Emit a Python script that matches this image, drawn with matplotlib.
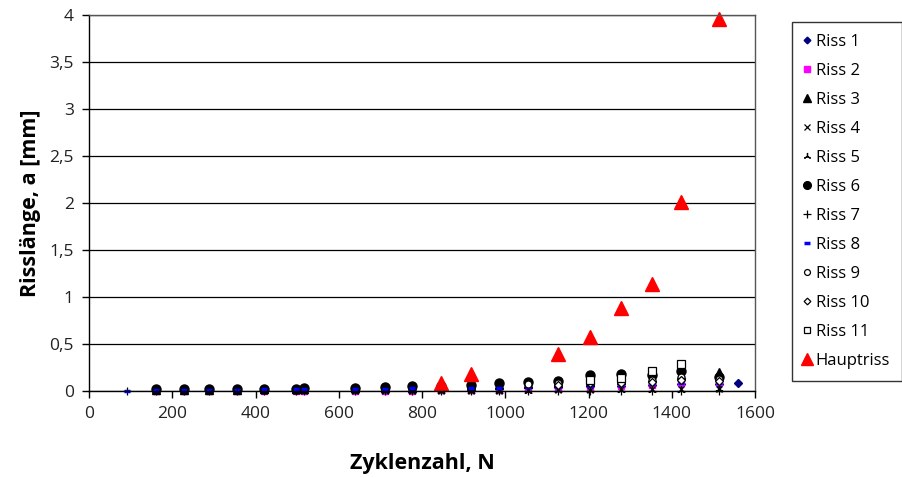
import matplotlib
matplotlib.use("Agg")
import matplotlib.pyplot as plt
import numpy as np

plt.rcParams['font.family'] = ['Open Sans', 'DejaVu Sans']

N = [91, 161, 228, 288, 355, 420, 497, 517, 639, 711, 776, 846, 918, 985,
     1055, 1127, 1204, 1278, 1353, 1422, 1513, 1559]
nan = float('nan')

riss1 = [nan, 0.01, 0.01, 0.01, 0.012, 0.015, 0.015, 0.015, 0.02, 0.02, 0.022, 0.025,
         0.03, 0.035, 0.04, 0.045, 0.05, 0.055, 0.06, 0.07, 0.075, 0.08]
riss2 = [nan, 0.0, 0.0, 0.0, 0.0, 0.005, 0.005, 0.005, 0.005, 0.005, 0.005, 0.01,
         0.01, 0.015, 0.02, 0.03, 0.04, 0.05, 0.06, 0.085, 0.1, nan]
riss3 = [nan, 0.01, 0.015, 0.015, 0.015, 0.02, 0.02, 0.02, 0.03, 0.03, 0.03, 0.04,
         0.05, 0.06, 0.07, 0.08, 0.1, 0.12, 0.14, 0.17, 0.2, nan]
riss4 = [nan, 0.0, 0.0, 0.0, 0.0, 0.0, 0.0, 0.0, 0.0, 0.0, 0.005, 0.005,
         0.005, 0.005, 0.01, 0.01, 0.015, 0.02, 0.02, 0.02, 0.025, nan]
riss5 = [nan, 0.0, 0.0, 0.0, 0.0, 0.0, 0.0, 0.0, 0.0, 0.0, 0.0, 0.0,
         0.0, 0.005, 0.005, 0.01, 0.01, 0.01, 0.015, 0.015, 0.02, nan]
riss6 = [nan, 0.02, 0.02, 0.02, 0.025, 0.025, 0.025, 0.03, 0.035, 0.045, 0.05, 0.055,
         0.065, 0.08, 0.095, 0.11, 0.17, 0.18, 0.17, 0.21, 0.15, nan]
riss7 = [0.0, 0.0, 0.0, 0.0, 0.0, 0.0, 0.0, 0.0, 0.0, 0.0, 0.0, 0.0,
         0.0, 0.0, 0.0, 0.0, 0.0, 0.0, 0.0, 0.0, 0.0, nan]
riss8 = [0.0, 0.01, 0.01, 0.015, 0.015, 0.02, 0.02, 0.02, 0.025, 0.025, 0.03, 0.03,
         0.035, 0.035, 0.04, 0.045, 0.05, 0.06, 0.07, 0.08, 0.09, nan]
riss9 = [nan, nan, nan, nan, nan, nan, nan, nan, nan, nan, nan, nan,
         nan, nan, 0.07, 0.08, 0.11, 0.12, 0.12, 0.15, 0.13, nan]
riss10 = [nan, nan, nan, nan, nan, nan, nan, nan, nan, nan, nan, nan,
          nan, nan, nan, 0.06, 0.08, 0.09, 0.1, 0.12, 0.11, nan]
riss11 = [nan, nan, nan, nan, nan, nan, nan, nan, nan, nan, nan, nan,
          nan, nan, nan, nan, 0.12, 0.14, 0.21, 0.29, nan, nan]

N_haupt = [846, 918, 1127, 1204, 1278, 1353, 1422, 1513]
haupt = [0.09, 0.18, 0.39, 0.57, 0.88, 1.14, 2.01, 3.96]

labels = ['Riss 1', 'Riss 2', 'Riss 3', 'Riss 4', 'Riss 5', 'Riss 6', 'Riss 7',
          'Riss 8', 'Riss 9', 'Riss 10', 'Riss 11', 'Hauptriss']
xticks = [0, 200, 400, 600, 800, 1000, 1200, 1400, 1600]
yticks = [0, 0.5, 1, 1.5, 2, 2.5, 3, 3.5, 4]
ytick_labels = ['0', '0,5', '1', '1,5', '2', '2,5', '3', '3,5', '4']

fig = plt.figure(figsize=(9.02, 4.78), dpi=100)
ax = fig.add_axes([89/902, 1-391/478, (755-89)/902, (391-15)/478])

styles = [
    dict(marker='D', color='#000080', ms=4, mec='#000080'),
    dict(marker='s', color='#ff00ff', ms=5, mec='#ff00ff'),
    dict(marker='^', color='black', ms=6, mec='black'),
    dict(marker='x', color='black', ms=5, mew=0.9),
    dict(marker=(3, 2, 0), color='black', ms=6, mew=0.9),
    dict(marker='o', color='black', ms=6.5, mec='black'),
    dict(marker='+', color='black', ms=6, mew=0.9),
    dict(marker='_', color='#0000ff', ms=5, mew=2.5),
    dict(marker='o', color='black', ms=5, mfc='white', mew=0.9),
    dict(marker='D', color='black', ms=4, mfc='white', mew=0.9),
    dict(marker='s', color='black', ms=5.5, mfc='white', mew=0.9),
]
series = [riss1, riss2, riss3, riss4, riss5, riss6, riss7, riss8, riss9, riss10, riss11]
for s, st, lab in zip(series, styles, labels[:11]):
    ax.plot(N, s, linestyle='none', label=lab, clip_on=False, **st)
ax.plot(N_haupt, haupt, linestyle='none', marker='^', color='#ff0000', ms=10,
        label=labels[11], clip_on=False)

ax.set_xlim(0, 1600)
ax.set_ylim(0, 4)
ax.set_xticks(xticks)
ax.set_yticks(yticks)
ax.set_yticklabels(ytick_labels)
ax.yaxis.grid(True, color='black', linewidth=0.9)
ax.set_axisbelow(True)
for sp in ax.spines.values():
    sp.set_color('#555555')
    sp.set_linewidth(1.0)
ax.spines['left'].set_color('black')
ax.spines['bottom'].set_color('black')
ax.tick_params(direction='out', length=5, width=1, labelsize=12.5, colors='black', pad=6)
for lbl in ax.get_xticklabels() + ax.get_yticklabels():
    lbl.set_color('#222222')

ax.set_xlabel('Zyklenzahl, N', fontsize=15.5, fontweight='bold', labelpad=22)
ax.set_ylabel('Risslänge, a [mm]', fontsize=15.5, fontweight='bold', labelpad=6)

leg = ax.legend(loc='upper left', bbox_to_anchor=(792/902, 1-22/478),
                bbox_transform=fig.transFigure, frameon=True, fancybox=False,
                fontsize=12, handlelength=0.3, handletextpad=0.4,
                labelspacing=0.78, borderpad=0.72, borderaxespad=0,
                markerscale=0.85)
leg.get_frame().set_edgecolor('black')
leg.get_frame().set_linewidth(1.0)

fig.savefig('out.png', dpi=100)
